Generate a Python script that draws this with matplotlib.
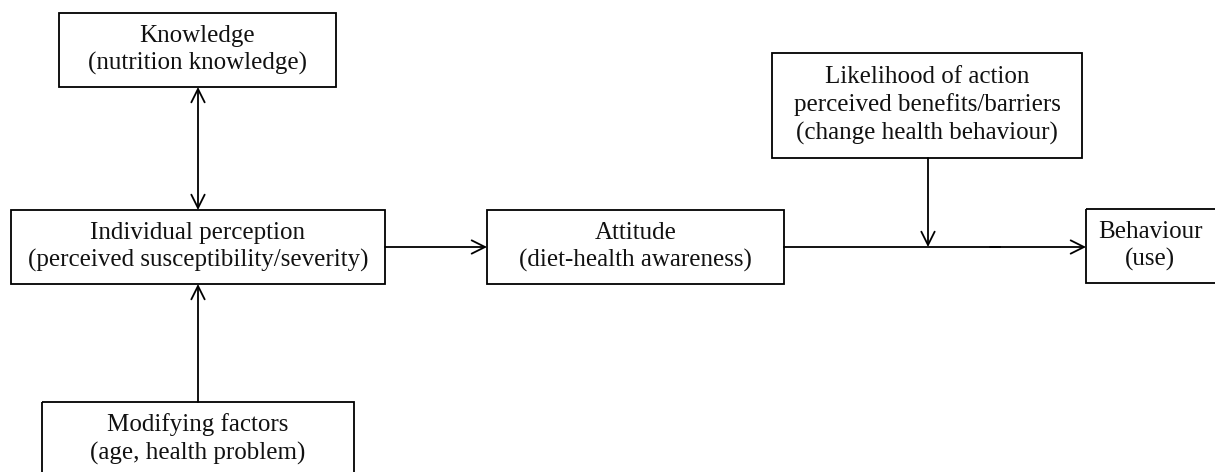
import matplotlib.pyplot as plt
from matplotlib.patches import Rectangle

# Box labels
knowledge_lbl = 'Knowledge\n(nutrition knowledge)'
perception_lbl = 'Individual perception\n(perceived susceptibility/severity)'
modifying_lbl = 'Modifying factors\n(age, health problem)'
attitude_lbl = 'Attitude\n(diet-health awareness)'
likelihood_lbl = 'Likelihood of action\nperceived benefits/barriers\n(change health behaviour)'
behaviour_lbl = 'Behaviour\n(use)'

W, H = 1215, 472

fig = plt.figure(figsize=(12.15, 4.72), dpi=100)
ax = fig.add_axes([0, 0, 1, 1])
ax.set_xlim(0, W)
ax.set_ylim(H, 0)
ax.axis('off')

FONT = 'Liberation Serif'
FS = 18
LW = 1.3


# draw a box (pixel coords, y down) with centered text
def box(x0, y0, x1, y1, text, tx=None, ty=None):
    ax.add_patch(Rectangle((x0, y0), x1 - x0, y1 - y0, fill=False,
                           edgecolor='black', linewidth=LW, clip_on=True))
    if tx is None:
        tx = (x0 + x1) / 2
    if ty is None:
        ty = (y0 + y1) / 2
    ax.text(tx, ty, text, ha='center', va='center', fontsize=FS,
            family=FONT, linespacing=1.3, color='#111111')


def arrow(x0, y0, x1, y1, style='->'):
    ax.annotate('', xy=(x1, y1), xytext=(x0, y0),
                arrowprops=dict(arrowstyle=style, color='black', lw=LW,
                                shrinkA=0, shrinkB=0,
                                mutation_scale=24))


box(59, 13, 336, 87, knowledge_lbl)
box(11, 210, 385, 284, perception_lbl)
box(42, 402, 354, 480, modifying_lbl, ty=439)
box(487, 210, 784, 284, attitude_lbl)
box(772, 53, 1082, 158, likelihood_lbl)
box(1086, 209, 1222, 283, behaviour_lbl, tx=1150)

arrow(198, 87, 198, 210, '<->')
arrow(198, 402, 198, 284)
arrow(385, 247, 487, 247)
ax.plot([784, 1000], [247, 247], color='black', lw=LW)
arrow(990, 247, 1086, 247)
arrow(928, 158, 928, 247)

fig.savefig('out.png', dpi=100, facecolor='white')
